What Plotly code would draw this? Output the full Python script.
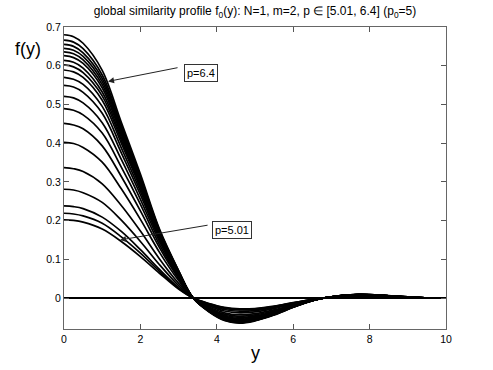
import plotly.graph_objects as go

y_grid = [0, 0.25, 0.5, 1, 1.5, 2, 2.5, 3, 3.38, 3.8, 4.2, 4.6, 5.0, 5.5, 6.0, 6.5, 6.9, 7.7, 8.5, 9.3, 10]

# profiles f0(y), from p=6.4 (largest) down to p=5.01 (smallest)
c01 = [0.680, 0.675, 0.658, 0.588, 0.454, 0.320, 0.178, 0.071, 0.0, -0.036, -0.058, -0.065, -0.059, -0.044, -0.024, -0.007, 0.002, 0.0095, 0.006, 0.001, 0.0]
c02 = [0.666, 0.661, 0.644, 0.576, 0.446, 0.314, 0.175, 0.070, 0.0, -0.035, -0.057, -0.064, -0.058, -0.043, -0.024, -0.007, 0.002, 0.0093, 0.0059, 0.001, 0.0]
c03 = [0.655, 0.650, 0.633, 0.567, 0.440, 0.310, 0.173, 0.069, 0.0, -0.035, -0.056, -0.063, -0.057, -0.043, -0.023, -0.007, 0.002, 0.0092, 0.0058, 0.001, 0.0]
c04 = [0.645, 0.640, 0.624, 0.559, 0.434, 0.306, 0.172, 0.068, 0.0, -0.034, -0.056, -0.062, -0.057, -0.042, -0.023, -0.007, 0.0019, 0.0091, 0.0058, 0.001, 0.0]
c05 = [0.636, 0.631, 0.615, 0.551, 0.428, 0.302, 0.170, 0.067, 0.0, -0.034, -0.055, -0.062, -0.056, -0.042, -0.023, -0.0067, 0.0019, 0.0090, 0.0057, 0.001, 0.0]
c06 = [0.626, 0.621, 0.606, 0.543, 0.422, 0.298, 0.168, 0.066, 0.0, -0.0335, -0.054, -0.061, -0.055, -0.041, -0.0226, -0.0067, 0.0019, 0.0089, 0.0057, 0.0009, 0.0]
c07 = [0.614, 0.609, 0.594, 0.532, 0.415, 0.294, 0.165, 0.065, 0.0, -0.033, -0.053, -0.060, -0.055, -0.041, -0.022, -0.0066, 0.0019, 0.0087, 0.0056, 0.0009, 0.0]
c08 = [0.602, 0.597, 0.582, 0.522, 0.408, 0.289, 0.163, 0.064, 0.0, -0.032, -0.0525, -0.059, -0.054, -0.040, -0.022, -0.0065, 0.0018, 0.0086, 0.0055, 0.0009, 0.0]
c09 = [0.589, 0.584, 0.570, 0.511, 0.400, 0.284, 0.160, 0.063, 0.0, -0.032, -0.0515, -0.058, -0.053, -0.040, -0.0217, -0.0064, 0.0018, 0.0085, 0.0054, 0.0009, 0.0]
c10 = [0.570, 0.565, 0.552, 0.495, 0.388, 0.276, 0.156, 0.061, 0.0, -0.031, -0.050, -0.0565, -0.0516, -0.0387, -0.0212, -0.0063, 0.0018, 0.0082, 0.0053, 0.0009, 0.0]
c11 = [0.549, 0.545, 0.531, 0.477, 0.375, 0.267, 0.152, 0.059, 0.0, -0.030, -0.0487, -0.0549, -0.0502, -0.0377, -0.0207, -0.0062, 0.0017, 0.0080, 0.0052, 0.0009, 0.0]
c12 = [0.521, 0.517, 0.504, 0.453, 0.358, 0.255, 0.146, 0.056, 0.0, -0.0287, -0.0467, -0.0527, -0.0483, -0.0363, -0.0200, -0.0060, 0.0017, 0.0077, 0.0050, 0.0008, 0.0]
c13 = [0.489, 0.485, 0.473, 0.426, 0.338, 0.242, 0.138, 0.053, 0.0, -0.0272, -0.0444, -0.0502, -0.0462, -0.0348, -0.0192, -0.0058, 0.0016, 0.0073, 0.0048, 0.0008, 0.0]
c14 = [0.451, 0.447, 0.437, 0.393, 0.314, 0.225, 0.130, 0.050, 0.0, -0.0255, -0.0417, -0.0473, -0.0437, -0.0330, -0.0183, -0.0056, 0.0015, 0.0069, 0.0046, 0.0008, 0.0]
c15 = [0.402, 0.399, 0.389, 0.351, 0.282, 0.203, 0.118, 0.045, 0.0, -0.0232, -0.0382, -0.0435, -0.0404, -0.0306, -0.0170, -0.0053, 0.0014, 0.0063, 0.0043, 0.0007, 0.0]
c16 = [0.337, 0.334, 0.327, 0.295, 0.239, 0.173, 0.101, 0.038, 0.0, -0.0202, -0.0336, -0.0384, -0.0360, -0.0275, -0.0154, -0.0048, 0.0013, 0.0056, 0.0038, 0.0006, 0.0]
c17 = [0.281, 0.279, 0.272, 0.247, 0.201, 0.146, 0.086, 0.032, 0.0, -0.0176, -0.0296, -0.0341, -0.0323, -0.0248, -0.0140, -0.0045, 0.0012, 0.0049, 0.0035, 0.0006, 0.0]
c18 = [0.238, 0.236, 0.231, 0.209, 0.172, 0.125, 0.074, 0.027, 0.0, -0.0157, -0.0266, -0.0308, -0.0294, -0.0227, -0.0129, -0.0042, 0.0011, 0.0044, 0.0032, 0.0005, 0.0]
c19 = [0.219, 0.217, 0.212, 0.193, 0.158, 0.116, 0.069, 0.025, 0.0, -0.0148, -0.0252, -0.0293, -0.0282, -0.0218, -0.0124, -0.0041, 0.0010, 0.0042, 0.0031, 0.0005, 0.0]
c20 = [0.202, 0.2005, 0.196, 0.178, 0.146, 0.107, 0.064, 0.023, 0.0, -0.014, -0.024, -0.028, -0.027, -0.021, -0.012, -0.004, 0.001, 0.004, 0.003, 0.0005, 0.0]

profiles = [c01, c02, c03, c04, c05, c06, c07, c08, c09, c10,
            c11, c12, c13, c14, c15, c16, c17, c18, c19, c20]

x_ticks = [0, 2, 4, 6, 8, 10]
y_ticks = [0, 0.1, 0.2, 0.3, 0.4, 0.5, 0.6, 0.7]

FONT = "Liberation Sans, Arial, Helvetica, sans-serif"

fig = go.Figure()
for prof in profiles:
    fig.add_trace(go.Scatter(
        x=y_grid, y=prof, mode="lines",
        line=dict(color="black", width=1.7, shape="spline", smoothing=1.0),
        showlegend=False, hoverinfo="skip"))

axis_common = dict(showgrid=False, ticks="inside", ticklen=5, tickwidth=1,
                   tickcolor="#555", showline=True, linecolor="#666", linewidth=1,
                   mirror="ticks", tickfont=dict(family=FONT, size=10.5, color="black"))

fig.update_xaxes(range=[0, 10], tickvals=x_ticks, zeroline=False, **axis_common)
fig.update_yaxes(range=[-0.08, 0.7], tickvals=y_ticks, ticktext=[str(v) for v in y_ticks],
                 zeroline=True, zerolinecolor="black", zerolinewidth=1.5, **axis_common)

plot_l, plot_r, plot_t, plot_b = 64, 446, 27, 329


def px_to_paper(px, py):
    return (px - plot_l) / (plot_r - plot_l), (plot_b - py) / (plot_b - plot_t)


fy_x, fy_y = px_to_paper(28, 49)
yl_x, yl_y = px_to_paper(255, 353)

annotations = [
    # p=6.4 arrow
    dict(x=1.153, y=0.5595, xref="x", yref="y", text="", showarrow=True,
         ax=71, ay=-14, arrowhead=2, arrowsize=1.2, arrowwidth=1, arrowcolor="#222"),
    dict(x=3.578, y=0.580, xref="x", yref="y", text="p=6.4", showarrow=False,
         xanchor="center", yanchor="middle",
         font=dict(family=FONT, size=11, color="black"), bgcolor="white",
         bordercolor="#333", borderwidth=1, borderpad=2),
    # p=5.01 arrow
    dict(x=1.468, y=0.150, xref="x", yref="y", text="", showarrow=True,
         ax=89, ay=-15, arrowhead=2, arrowsize=1.2, arrowwidth=1, arrowcolor="#222"),
    dict(x=4.385, y=0.176, xref="x", yref="y", text="p=5.01", showarrow=False,
         xanchor="center", yanchor="middle",
         font=dict(family=FONT, size=11, color="black"), bgcolor="white",
         bordercolor="#333", borderwidth=1, borderpad=2),
    # axis labels
    dict(x=fy_x, y=fy_y, xref="paper", yref="paper", text="f(y)", showarrow=False,
         xanchor="center", yanchor="middle",
         font=dict(family=FONT, size=18, color="black")),
    dict(x=yl_x, y=yl_y, xref="paper", yref="paper", text="y", showarrow=False,
         xanchor="center", yanchor="middle",
         font=dict(family=FONT, size=18, color="black")),
]

fig.update_layout(
    width=493, height=370,
    margin=dict(l=plot_l, r=493 - plot_r, t=plot_t, b=370 - plot_b),
    paper_bgcolor="white", plot_bgcolor="white",
    title=dict(text="global similarity profile f<sub>0</sub>(y): N=1, m=2, p \u2208 [5.01, 6.4] (p<sub>0</sub>=5)",
               x=0.5, xref="paper", y=1 - 11 / 370, yanchor="middle",
               font=dict(family=FONT, size=12, color="black")),
    annotations=annotations,
)

fig.write_html("out.html", config={"displayModeBar": False},
               post_script="document.body.style.margin='0';")
